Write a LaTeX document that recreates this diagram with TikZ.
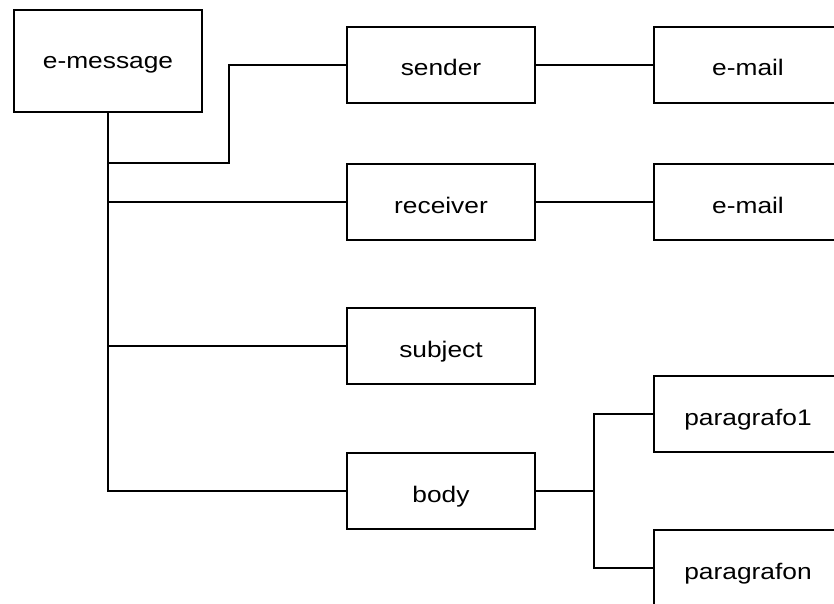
\documentclass[tikz,border=0pt]{standalone}
\usepackage{fontspec}
\setmainfont{Liberation Sans}
\begin{document}
\begin{tikzpicture}[x=1pt,y=-1pt,
  box/.style={draw=black,line width=2pt,fill=white,minimum width=188pt,minimum height=76pt,inner sep=0pt,
    text height=24pt,text depth=2pt,font=\fontsize{22.5}{27}\selectfont},
  link/.style={draw=black,line width=1.3pt}]
\newcommand{\lbl}[1]{\scalebox{1.17}[1]{#1}}
\useasboundingbox (0,0) rectangle (834,604);
\clip (0,0) rectangle (834,604);

% first level: the message
\node[box,minimum height=102pt,text height=17pt,text depth=2.4pt] (emsg) at (108,61) {\lbl{e-message}};

% second level: its parts
\node[box] (sender)   at (441,65)  {\lbl{sender}};
\node[box] (receiver) at (441,202) {\lbl{receiver}};
\node[box] (subject)  at (441,346) {\lbl{subject}};
\node[box] (body)     at (441,491) {\lbl{body}};

% third level
\node[box] (mail1) at (748,65)  {\lbl{e-mail}};
\node[box] (mail2) at (748,202) {\lbl{e-mail}};
\node[box] (par1)  at (748,414) {\lbl{paragrafo1}};
\node[box] (parn)  at (748,568) {\lbl{paragrafon}};

% trunk and branches from the message
\coordinate (sbend) at (229,163);
\draw[link] (emsg.south) -- (emsg.south |- body.west) -- (body.west);
\draw[link] (emsg.south |- sbend) -- (sbend) |- (sender.west);
\draw[link] (emsg.south |- receiver.west) -- (receiver.west);
\draw[link] (emsg.south |- subject.west) -- (subject.west);

% sender and receiver addresses
\draw[link] (sender.east) -- (mail1.west);
\draw[link] (receiver.east) -- (mail2.west);

% body paragraphs
\coordinate (bfork) at (594,491);
\draw[link] (body.east) -- (bfork);
\draw[link,line cap=rect] (bfork |- par1.west) -- (bfork |- parn.west);
\draw[link] (bfork |- par1.west) -- (par1.west);
\draw[link] (bfork |- parn.west) -- (parn.west);
\end{tikzpicture}
\end{document}
